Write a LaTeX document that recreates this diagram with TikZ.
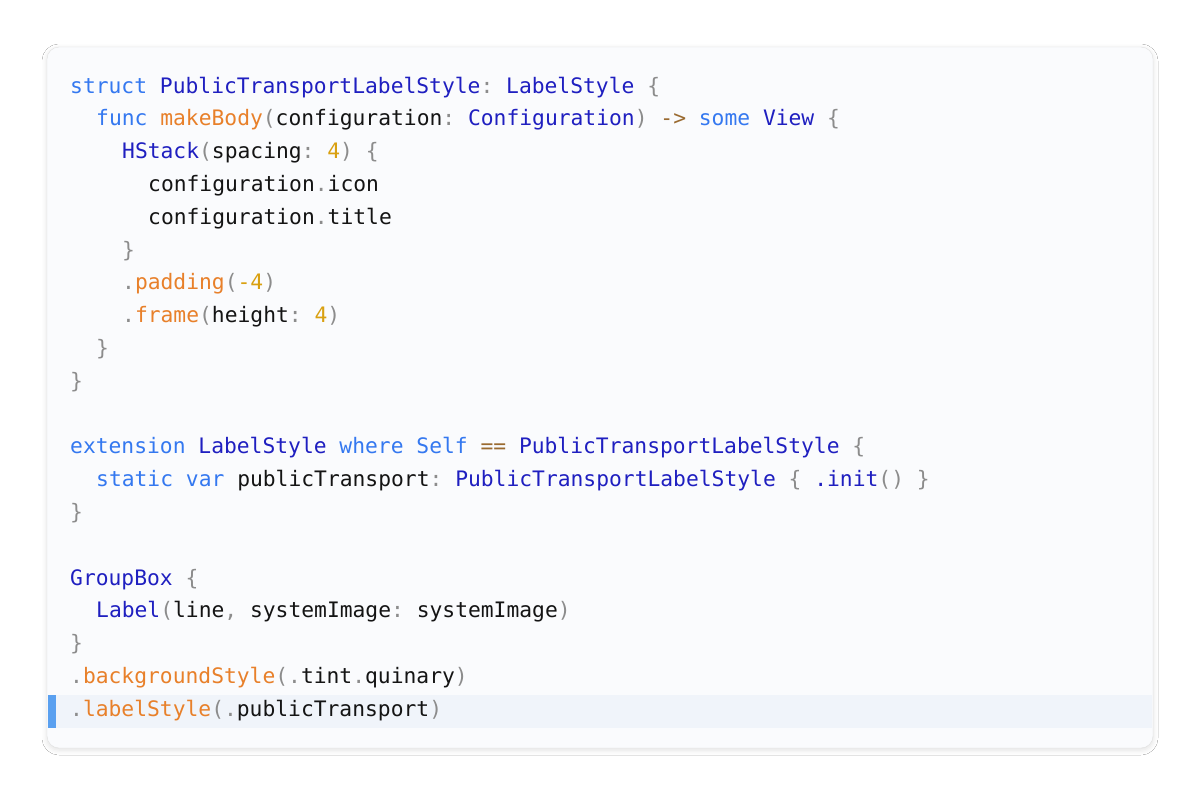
\documentclass[tikz,border=0pt]{standalone}
\usepackage{fontspec}
\setmonofont{DejaVu Sans Mono}
\usetikzlibrary{shadows.blur}
\definecolor{kwc}{HTML}{3478F0}
\definecolor{tyc}{HTML}{1F1FC0}
\definecolor{fnc}{HTML}{E8802A}
\definecolor{nmc}{HTML}{D9A010}
\definecolor{puc}{HTML}{8C8C8C}
\definecolor{opc}{HTML}{9A6A30}
\definecolor{txc}{HTML}{141414}
\definecolor{cardc}{HTML}{FAFBFD}
\newcommand\Kw[1]{\textcolor{kwc}{#1}}
\newcommand\Ty[1]{\textcolor{tyc}{#1}}
\newcommand\Fn[1]{\textcolor{fnc}{#1}}
\newcommand\Nm[1]{\textcolor{nmc}{#1}}
\newcommand\Pu[1]{\textcolor{puc}{#1}}
\newcommand\Op[1]{\textcolor{opc}{#1}}
\begin{document}
\begin{tikzpicture}[x=1pt,y=-1pt,
  code/.style={anchor=base west,inner sep=0pt,font=\ttfamily\fontsize{21.3}{24}\selectfont,text=txc}]
\useasboundingbox (0,0) rectangle (1200,796);
\fill[white] (0,0) rectangle (1200,796);
\node[draw=black!12,fill=cardc,rounded corners=12pt,minimum width=1106pt,minimum height=701pt,
  blur shadow={shadow xshift=0pt,shadow yshift=-2pt,shadow blur radius=5pt,shadow opacity=12}] (card) at (600,397.5) {};
\fill[fill={rgb,255:red,240;green,244;blue,250}] (48,695) rectangle (1152,728);
\fill[fill={rgb,255:red,90;green,160;blue,240}] (48,695) rectangle (56,728);
\def\L#1#2#3{\node[code] (l#1) at (70+13*#2,{93+32.8*(#1-1)}) {#3};}
\L{1}{0}{\Kw{struct} \Ty{PublicTransportLabelStyle}\Pu{:} \Ty{LabelStyle} \Pu{\{}}
\L{2}{2}{\Kw{func} \Fn{makeBody}\Pu{(}configuration\Pu{:} \Ty{Configuration}\Pu{)} \Op{->} \Kw{some} \Ty{View} \Pu{\{}}
\L{3}{4}{\Ty{HStack}\Pu{(}spacing\Pu{:} \Nm{4}\Pu{)} \Pu{\{}}
\L{4}{6}{configuration\Pu{.}icon}
\L{5}{6}{configuration\Pu{.}title}
\L{6}{4}{\Pu{\}}}
\L{7}{4}{\Pu{.}\Fn{padding}\Pu{(}\Nm{-4}\Pu{)}}
\L{8}{4}{\Pu{.}\Fn{frame}\Pu{(}height\Pu{:} \Nm{4}\Pu{)}}
\L{9}{2}{\Pu{\}}}
\L{10}{0}{\Pu{\}}}
\L{12}{0}{\Kw{extension} \Ty{LabelStyle} \Kw{where} \Kw{Self} \Op{==} \Ty{PublicTransportLabelStyle} \Pu{\{}}
\L{13}{2}{\Kw{static} \Kw{var} publicTransport\Pu{:} \Ty{PublicTransportLabelStyle} \Pu{\{} \Ty{.init}\Pu{()} \Pu{\}}}
\L{14}{0}{\Pu{\}}}
\L{16}{0}{\Ty{GroupBox} \Pu{\{}}
\L{17}{2}{\Ty{Label}\Pu{(}line\Pu{,} systemImage\Pu{:} systemImage\Pu{)}}
\L{18}{0}{\Pu{\}}}
\L{19}{0}{\Pu{.}\Fn{backgroundStyle}\Pu{(.}tint\Pu{.}quinary\Pu{)}}
\L{20}{0}{\Pu{.}\Fn{labelStyle}\Pu{(.}publicTransport\Pu{)}}
\end{tikzpicture}
\end{document}
